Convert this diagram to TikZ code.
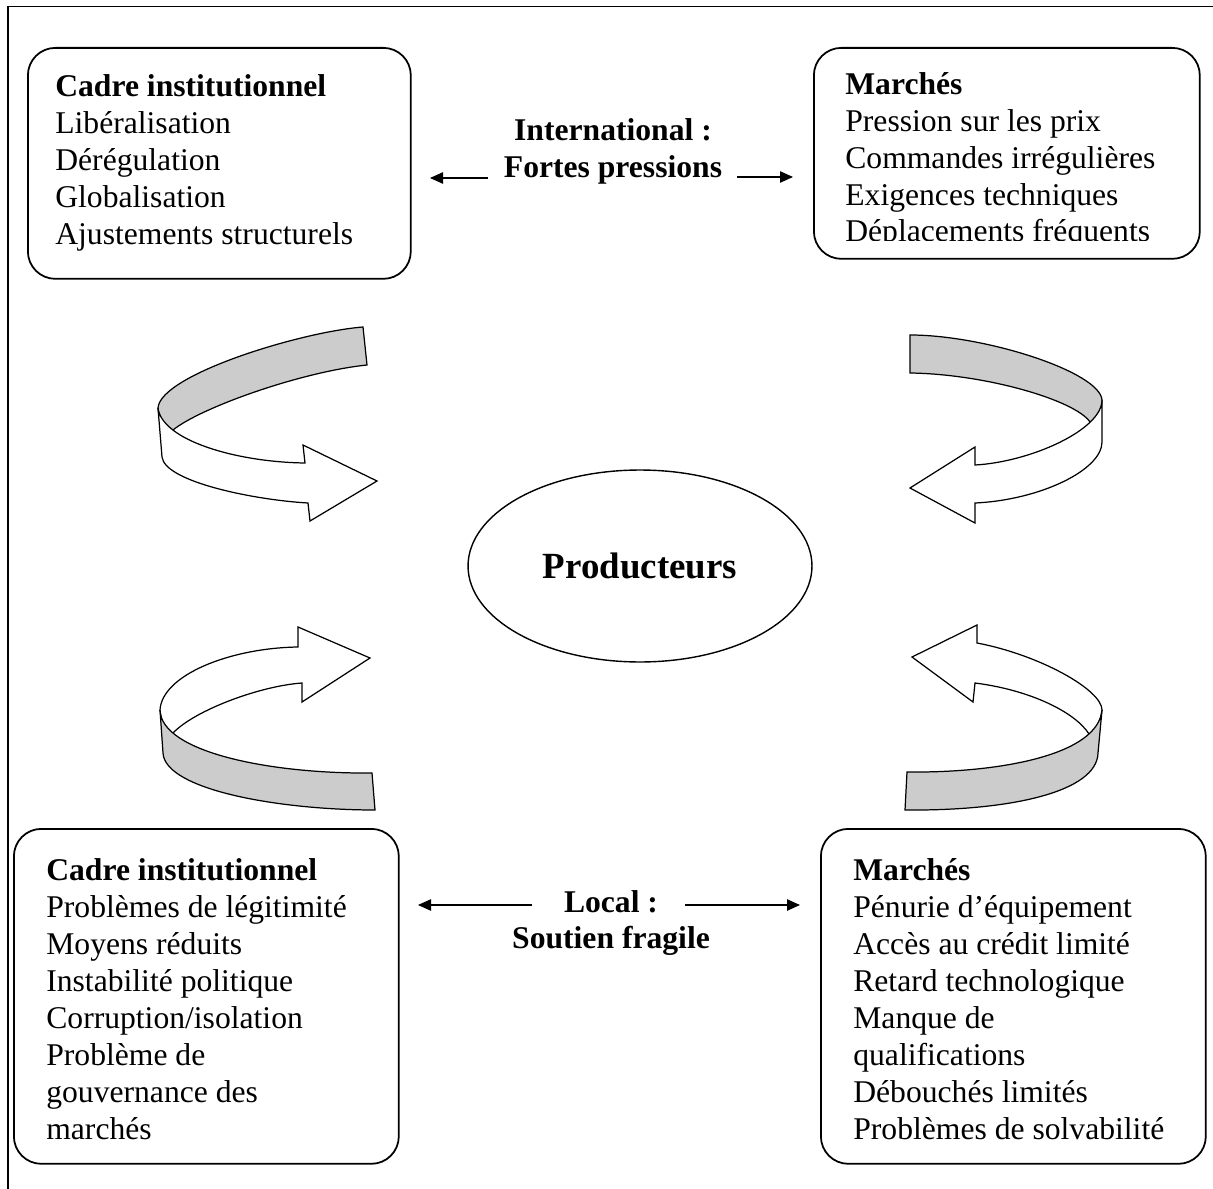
\documentclass[tikz,border=0pt]{standalone}
\usepackage{fontspec}
\setmainfont{Liberation Serif}
\usetikzlibrary{arrows.meta,shapes.geometric}

\tikzset{
  panel/.style={draw, line width=1pt, rounded corners=0.55cm, anchor=north west, inner sep=0pt},
  listtext/.style={anchor=north west, align=left, inner sep=0pt, font=\fontsize{18}{21}\selectfont},
  midlabel/.style={anchor=north, align=center, inner sep=0pt, font=\fontsize{18}{21}\selectfont\bfseries},
  link/.style={line width=0.6pt, -{Triangle[length=7.4pt,width=6.5pt]}},
  backband/.style={draw, line width=0.7pt, fill=black!20},
  frontband/.style={draw, line width=0.7pt, fill=white},
}

\begin{document}
\begin{tikzpicture}[x=0.02cm, y=-0.02cm]
\useasboundingbox (0,0) rectangle (1213,1189);
\draw[line width=1.1pt] (1213,6.5) -- (8,6.5) -- (8,1189);

% les quatre cadres
\node[panel, minimum width=7.66cm, minimum height=4.62cm] (tl) at (27,47) {};
\node[listtext] (tltext) at (55,74.5) {\textbf{Cadre institutionnel}\\Libéralisation\\Dérégulation\\Globalisation\\Ajustements structurels};

\node[panel, minimum width=7.72cm, minimum height=4.22cm] (tr) at (813,47) {};
\begin{scope}
  \clip (tr.north west) rectangle (1199,240.5);
  \node[listtext] (trtext) at (845,72) {\textbf{Marchés}\\Pression sur les prix\\Commandes irrégulières\\Exigences techniques\\Déplacements fréquents};
\end{scope}

\node[panel, minimum width=7.7cm, minimum height=6.7cm] (bl) at (13,828) {};
\node[listtext] (bltext) at (46,858.5) {\textbf{Cadre institutionnel}\\Problèmes de légitimité\\Moyens réduits\\Instabilité politique\\Corruption/isolation\\Problème de\\gouvernance des\\marchés};

\node[panel, minimum width=7.7cm, minimum height=6.7cm] (br) at (820,828) {};
\node[listtext] (brtext) at (853,858.5) {\textbf{Marchés}\\Pénurie d’équipement\\Accès au crédit limité\\Retard technologique\\Manque de\\qualifications\\Débouchés limités\\Problèmes de solvabilité};

% centre
\node[draw, ellipse, line width=0.8pt, minimum width=6.88cm, minimum height=3.84cm, inner sep=0pt,
      font=\fontsize{21}{25}\selectfont\bfseries] (prod) at (640,566) {Producteurs};

% niveaux international / local
\node[midlabel] (intl) at (613,118.6) {International :\\Fortes pressions};
\node[midlabel, font=\fontsize{18}{20}\selectfont\bfseries] (local) at (611,890.6) {Local :\\Soutien fragile};

\coordinate (intlA) at (488,178);
\coordinate (intlB) at (430,178);
\coordinate (intlC) at (737,177);
\coordinate (intlD) at (793,177);
\draw[link] (intlA) -- (intlB);
\draw[link] (intlC) -- (intlD);

\coordinate (localA) at (532,905);
\coordinate (localB) at (418,905);
\coordinate (localC) at (685,905);
\coordinate (localD) at (800,905);
\draw[link] (localA) -- (localB);
\draw[link] (localC) -- (localD);

% fleches en ruban, haut gauche
\draw[backband] (363,327) .. controls (300,332) and (160,375) .. (158,408) -- (162,440) -- (173,430)
  .. controls (200,408) and (300,372) .. (367,365) -- cycle;
\draw[frontband] (158,408) .. controls (162,440) and (235,462) .. (305,463) -- (303,445) -- (377,481)
  -- (310,521) -- (308,503) .. controls (255,500) and (165,482) .. (162,457) -- cycle;

% haut droite
\draw[backband] (910,335) .. controls (985,335) and (1100,372) .. (1102,400) -- (1099,436) -- (1090,422)
  .. controls (1075,400) and (985,374) .. (910,373) -- cycle;
\draw[frontband] (1102,400) .. controls (1102,430) and (1030,462) .. (975,465) -- (975,447) -- (910,488)
  -- (975,523) -- (975,503) .. controls (1040,500) and (1102,470) .. (1102,442) -- cycle;

% bas gauche
\draw[frontband] (160,710) .. controls (162,675) and (230,648) .. (298,647) -- (298,627) -- (370,658)
  -- (302,702) -- (302,683) .. controls (260,686) and (195,710) .. (173,733) -- (165,745) -- cycle;
\draw[backband] (160,710) .. controls (161,752) and (270,774) .. (372,773) -- (375,810)
  .. controls (280,810) and (165,790) .. (163,753) -- cycle;

% bas droite
\draw[frontband] (1102,710) .. controls (1102,690) and (1040,655) .. (977,643) -- (977,625) -- (912,657)
  -- (973,702) -- (975,683) .. controls (1030,690) and (1075,712) .. (1089,734) -- (1097,740) -- cycle;
\draw[backband] (1102,710) .. controls (1098,755) and (1000,773) .. (907,772) -- (905,810)
  .. controls (1010,811) and (1097,792) .. (1098,753) -- cycle;
\end{tikzpicture}
\end{document}
